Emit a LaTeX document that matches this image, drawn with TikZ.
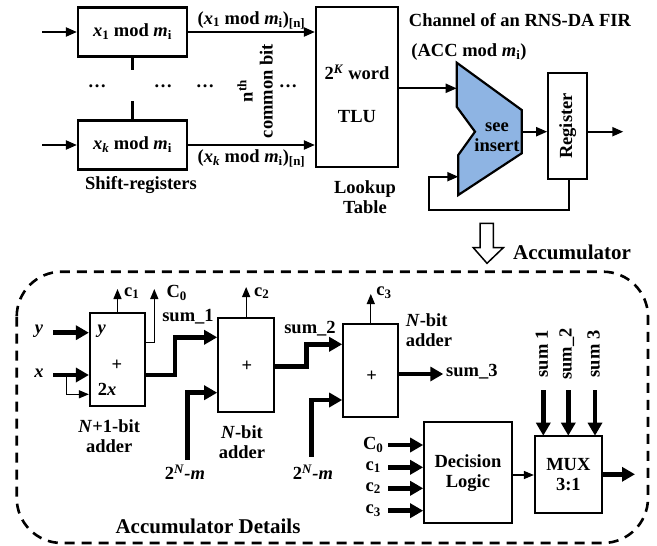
\documentclass[tikz,border=0pt]{standalone}
\usepackage{fontspec}
\setmainfont{Liberation Serif}
\usetikzlibrary{arrows.meta}
\definecolor{trapblue}{RGB}{142,180,227}
\begin{document}
\begin{tikzpicture}[x=1pt,y=-1pt,
  font=\fontsize{18.5}{20}\selectfont\bfseries,
  box/.style={draw,line width=2.2pt,inner sep=0pt},
  lbl/.style={inner sep=0pt},
  arr/.style={line width=2pt,-{Triangle[length=11pt,width=9pt]}},
  thinarr/.style={line width=1.3pt,-{Triangle[length=10pt,width=8pt]}},
  thickarr/.style={line width=4.5pt,-{Triangle[length=13pt,width=14pt]}},
  big/.style={font=\fontsize{21}{23}\selectfont\bfseries}]
\useasboundingbox (0,0) rectangle (657,546);

% ---------- top part ----------
\node[box,minimum width=109pt,minimum height=49pt] (b1) at (132.5,32) {\textit{x}\textsubscript{1} mod \textit{m}\textsubscript{i}};
\node[box,minimum width=109pt,minimum height=49pt] (bk) at (132.5,145) {\textit{x\textsubscript{k}} mod \textit{m}\textsubscript{i}};
\coordinate (in1) at (42,32);
\coordinate (ink) at (42,145);
\draw[arr] (in1) -- (b1.west);
\draw[arr] (ink) -- (bk.west);
\draw[line width=3pt] (b1.south) -- ++(0,12);
\draw[line width=3pt] (bk.north) -- ++(0,-18);
\foreach \xx/\nm in {97/d1,163/d2,205/d3,288/d4}
  \node[lbl] (\nm) at (\xx,86) {\ldots};
\node[lbl,rotate=90,align=center] (nth) at (255,91) {n\textsuperscript{th}\\common bit};
\node[lbl] (shreg) at (141,185) {Shift-registers};

\node[box,minimum width=82pt,minimum height=160pt] (tlu) at (357,87) {};
\node[lbl] (tlu1) at (357,72) {2\textsuperscript{\textit{K}} word};
\node[lbl] (tlu2) at (357,117) {TLU};
\node[lbl,align=center] (lut) at (365,197) {Lookup\\Table};
\draw[arr] (b1.east) -- (tlu.west |- b1.east) node[midway,above=2pt,lbl] (o1) {(\textit{x}\textsubscript{1} mod \textit{m}\textsubscript{i})\textsubscript{[n]}};
\draw[arr] (bk.east) -- (tlu.west |- bk.east) node[midway,below=4pt,lbl] (ok) {(\textit{x\textsubscript{k}} mod \textit{m}\textsubscript{i})\textsubscript{[n]}};

\node[lbl] (chan) at (520,20) {Channel of an RNS-DA FIR};
\node[lbl] (acc) at (469,52) {(ACC mod \textit{m}\textsubscript{i})};

% trapezoid accumulator
\coordinate (tA) at (456.7,62.7);
\coordinate (tB) at (521.7,110);
\coordinate (tC) at (521.7,153.3);
\coordinate (tD) at (458.3,195);
\coordinate (tE) at (458.3,155);
\coordinate (tF) at (475,131.7);
\coordinate (tG) at (456.7,106.7);
\draw[line width=2.2pt,fill=trapblue,line join=miter] (tA) -- (tB) -- (tC) -- (tD) -- (tE) -- (tF) -- (tG) -- cycle;
\node[lbl,align=center] (see) at (497,137.5) {see\\insert};
\coordinate (tin) at (456.7,88.3);
\coordinate (tout) at (521.7,131.7);
\coordinate (tfb) at (458.3,176.7);
\draw[arr] (tlu.east |- tin) -- (tin);

\node[box,minimum width=39pt,minimum height=106.6pt] (reg) at (567.8,126) {};
\node[lbl,rotate=90] (regt) at (567.8,126) {Register};
\draw[arr] (tout) -- (reg.west |- tout);
\coordinate (regout) at (623.3,131.7);
\draw[arr] (reg.east |- tout) -- (regout);
\draw[arr] (569.3,179.3) -- (569.3,210) -- (429,210) -- (429,176.7) -- (tfb);

% hollow arrow
\draw[line width=1.5pt,fill=white,line join=miter] (480,223.3) -- (493.3,223.3) -- (493.3,247.7) -- (503.3,247.7) -- (487,263.3) -- (473.3,247.7) -- (480,247.7) -- cycle;
\node[lbl,big] (accu) at (572,252) {Accumulator};

% dashed frame
\draw[line width=2.6pt,dash pattern=on 10pt off 7pt,rounded corners=45pt] (16.7,271.7) rectangle (648,543);
\node[lbl,big] (accd) at (208,526.7) {Accumulator Details};

% ---------- accumulator details ----------
\node[box,minimum width=55pt,minimum height=93.3pt] (a1) at (117.5,359.35) {};
\node[box,minimum width=55.7pt,minimum height=94pt] (a2) at (246.15,364.7) {};
\node[box,minimum width=55pt,minimum height=93pt] (a3) at (370.8,370.8) {};
\node[box,minimum width=87.4pt,minimum height=101pt,align=center] (dl) at (468,472.8) {Decision\\Logic};
\node[box,minimum width=66.7pt,minimum height=77pt,align=center] (mux) at (568.35,474.2) {MUX\\3:1};

\node[lbl] (a1y) at (101.7,331) {\textit{y}};
\node[lbl] (a1p) at (117,365) {+};
\node[lbl] (a1x) at (107,389) {2\textit{x}};
\node[lbl] (a2p) at (247,366.7) {+};
\node[lbl] (a3p) at (371.7,376.7) {+};

% inputs to adder 1
\node[lbl] (ylab) at (39,331) {\textit{y}};
\node[lbl] (xlab) at (39,373) {\textit{x}};
\coordinate (yin) at (53,332.7);
\coordinate (xin) at (53,375);
\coordinate (xbr) at (66.7,375);
\draw[thickarr] (yin) -- (a1.west |- yin);
\draw[thickarr] (xin) -- (a1.west |- xin);
\draw[thinarr] (xbr) -- (66.7,394.3) -- (a1.west |- 0,394.3);

% carries
\draw[thinarr] (a1.north) -- (117.5,289);
\node[lbl] (c1l) at (131.7,293) {c\textsubscript{1}};
\draw[thinarr] (a1.east |- 0,342.7) -- (154.3,342.7) -- (154.3,289);
\node[lbl] (c0l) at (176.7,293) {C\textsubscript{0}};
\draw[thinarr] (a2.north) -- (246.15,287);
\node[lbl] (c2l) at (261.7,293) {c\textsubscript{2}};
\draw[thinarr] (a3.north) -- (370.8,294);
\node[lbl] (c3l) at (384,293) {c\textsubscript{3}};

% sums
\draw[thickarr,line join=miter] (a1.east |- xin) -- (175,375) -- (175,337.3) -- (a2.west |- 0,337.3);
\node[lbl] (s1l) at (188,317) {sum\_1};
\draw[thickarr,line join=miter] (a2.east |- 0,366.7) -- (306.7,366.7) -- (306.7,344.3) -- (a3.west |- 0,344.3);
\node[lbl] (s2l) at (310,329) {sum\_2};
\coordinate (s3end) at (443.3,374);
\draw[thickarr] (a3.east |- s3end) -- (s3end);
\node[lbl,anchor=west] (s3l) at (446,372) {sum\_3};

% 2^N-m inputs
\draw[thickarr,line join=miter] (187.7,460) -- (187.7,392.7) -- (a2.west |- 0,392.7);
\node[lbl] (nm1) at (185,472) {2\textsuperscript{\textit{N}}\textit{-m}};
\draw[thickarr,line join=miter] (311.7,456.7) -- (311.7,400) -- (a3.west |- 0,400);
\node[lbl] (nm2) at (313,472) {2\textsuperscript{\textit{N}}\textit{-m}};

% adder captions
\node[lbl,align=center] (cap1) at (109.2,436) {\textit{N}+1-bit\\adder};
\node[lbl,align=center] (cap2) at (242,442) {\textit{N}-bit\\adder};
\node[lbl,align=left] (cap3) at (429,330) {\textit{N}-bit\\adder};

% decision logic inputs
\foreach \yy/\tt/\nm in {445/C\textsubscript{0}/k0,467.3/c\textsubscript{1}/k1,488.3/c\textsubscript{2}/k2,510.7/c\textsubscript{3}/k3}{
  \node[lbl] (\nm) at (373.3,\yy) {\tt};
  \draw[thickarr] (388.3,\yy) -- (dl.west |- 0,\yy);
}
\draw[thinarr] (dl.east |- 0,475) -- (mux.west |- 0,475);
\coordinate (muxout) at (635,474.3);
\draw[thickarr] (mux.east |- muxout) -- (muxout);

% mux sum inputs
\foreach \xx/\tt/\nm in {543.3/sum 1/m1,568.3/sum\_2/m2,595/sum 3/m3}{
  \node[lbl,rotate=90] (\nm) at (\xx-1.5,354) {\tt};
  \draw[thickarr] (\xx,390) -- (\xx,435.7);
}
\end{tikzpicture}
\end{document}
